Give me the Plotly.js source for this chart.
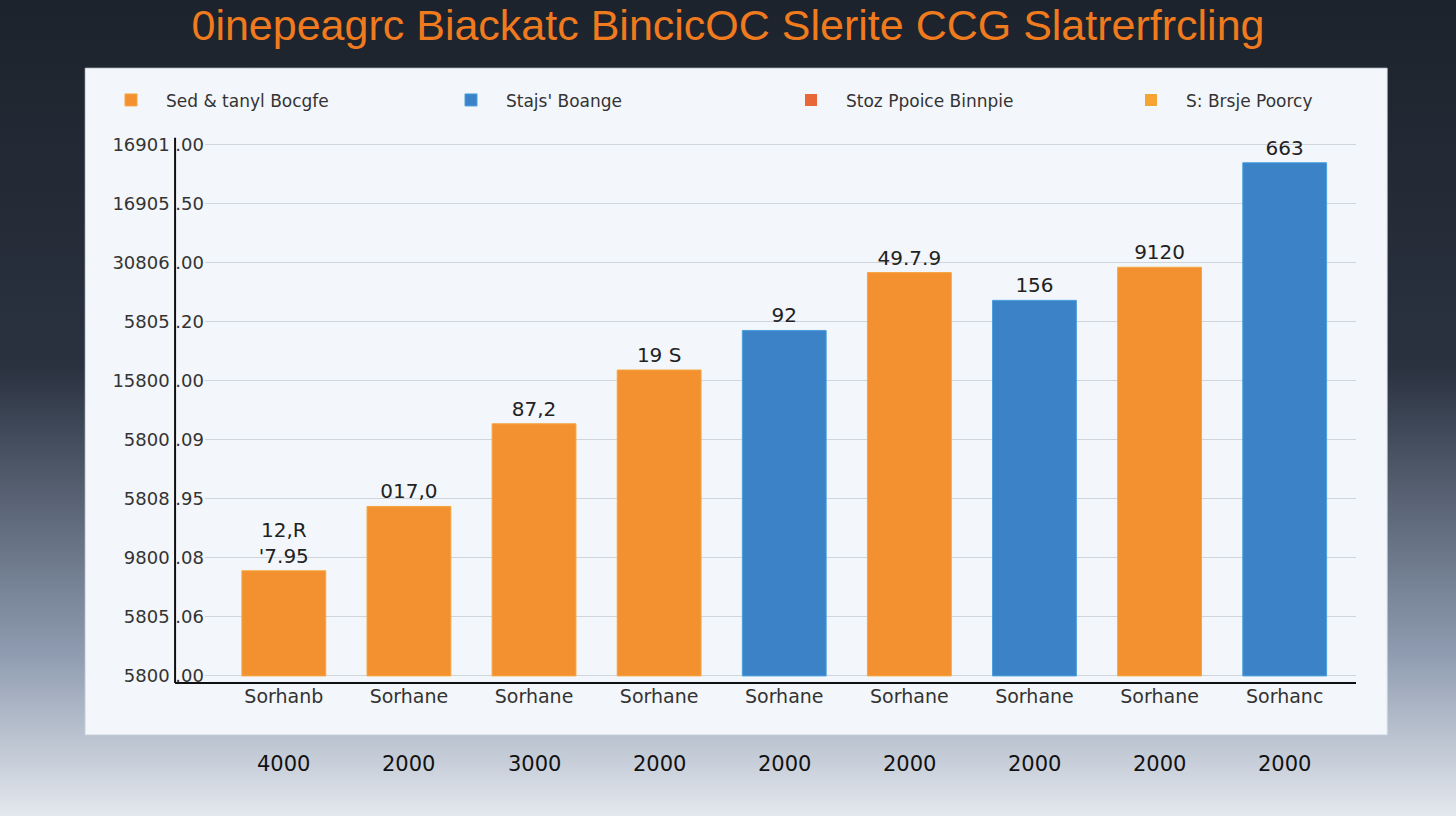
<!DOCTYPE html>
<html>
<head>
<meta charset="utf-8">
<script src="https://cdn.plot.ly/plotly-3.0.1.min.js"></script>
<style>
  html, body { margin: 0; padding: 0; }
  body { width: 1456px; height: 816px; background: linear-gradient(#1d232c 0%, #2a3240 45%, #8e9bb0 80%, #e4e8ee 100%); }
  #chart { width: 1456px; height: 816px; }
</style>
</head>
<body>
<div id="chart"></div>
<script>
var categories = [0, 1, 2, 3, 4, 5, 6, 7, 8];
var catLabels = ["Sorhanb", "Sorhane", "Sorhane", "Sorhane", "Sorhane", "Sorhane", "Sorhane", "Sorhane", "Sorhanc"];
var years = ["4000", "2000", "3000", "2000", "2000", "2000", "2000", "2000", "2000"];
var values = [1.78, 2.87, 4.27, 5.18, 5.85, 6.83, 6.36, 6.92, 8.69];
var barLabels = ["12,R<br>'7.95", "017,0", "87,2", "19 S", "92", "49.7.9", "156", "9120", "663"];
var isBlue = [false, false, false, false, true, false, true, false, true];
var tickVals = [0, 1, 2, 3, 4, 5, 6, 7, 8, 9];
var tickText = ["5800 .00", "5805 .06", "9800 .08", "5808 .95", "5800 .09", "15800 .00", "5805 .20", "30806 .00", "16905 .50", "16901 .00"];
var legendNames = ["Sed & tanyl Bocgfe", "Stajs' Boange", "Stoz Ppoice Binnpie", "S: Brsje Poorcy"];

function pick(flag) {
  return {
    x: categories.filter(function (c, i) { return isBlue[i] === flag; }),
    y: values.filter(function (v, i) { return isBlue[i] === flag; }),
    text: barLabels.filter(function (t, i) { return isBlue[i] === flag; })
  };
}
var o = pick(false), b = pick(true);

var data = [
  { type: "bar", x: o.x, y: o.y, text: o.text, name: legendNames[0], width: 0.67,
    textposition: "outside", cliponaxis: false,
    textfont: { family: "DejaVu Sans", size: 20, color: "#222" },
    marker: { color: "#f39030", line: { color: "#f5a640", width: 1 } } },
  { type: "bar", x: b.x, y: b.y, text: b.text, name: legendNames[1], width: 0.67,
    textposition: "outside", cliponaxis: false,
    textfont: { family: "DejaVu Sans", size: 20, color: "#222" },
    marker: { color: "#3b82c6", line: { color: "#4aa0e0", width: 1 } } },
  { type: "bar", x: [null], y: [null], name: legendNames[2], marker: { color: "#e8683a" } },
  { type: "bar", x: [null], y: [null], name: legendNames[3], marker: { color: "#f6a535" } }
];

var annotations = categories.map(function (c, i) {
  return { x: c, xref: "x", y: -0.165, yref: "paper", text: years[i], showarrow: false,
    font: { family: "DejaVu Sans", size: 21, color: "#111" } };
});

var layout = {
  width: 1456, height: 816,
  paper_bgcolor: "rgba(0,0,0,0)",
  plot_bgcolor: "rgba(0,0,0,0)",
  margin: { l: 205, r: 100, t: 109, b: 133 },
  title: { text: "0inepeagrc Biackatc BincicOC Slerite CCG Slatrerfrcling", x: 0.5, xref: "container",
    y: 0.97, yref: "container", yanchor: "middle",
    font: { family: "Liberation Sans", size: 43, color: "#f07a1e" } },
  barmode: "overlay",
  showlegend: true,
  legend: { orientation: "h", x: -0.03, xanchor: "left", y: 1.015, yanchor: "middle",
    entrywidth: 265, font: { family: "DejaVu Sans", size: 17, color: "#333" }, itemwidth: 60,
    bgcolor: "rgba(0,0,0,0)" },
  xaxis: { range: [-0.63, 8.57], tickvals: categories, ticktext: catLabels,
    tickfont: { family: "DejaVu Sans", size: 19, color: "#333" },
    showline: false, showgrid: false, zeroline: false, ticks: "", fixedrange: true },
  yaxis: { range: [-0.12, 9.6], tickvals: tickVals, ticktext: tickText,
    tickfont: { family: "DejaVu Sans", size: 18, color: "#333" },
    showline: false, gridcolor: "#cfd5dd", gridwidth: 1,
    zeroline: false, ticks: "", fixedrange: true },
  shapes: [
    { type: "rect", xref: "paper", yref: "paper", x0: -0.104, x1: 1.027, y0: -0.09, y1: 1.071,
      fillcolor: "#f3f6fa", line: { color: "#dde3ea", width: 1 }, layer: "below" },
    { type: "line", xref: "paper", yref: "paper", x0: -0.026, x1: -0.026, y0: 0, y1: 0.95,
      line: { color: "#111", width: 2 } },
    { type: "line", xref: "paper", yref: "paper", x0: -0.026, x1: 1, y0: 0, y1: 0,
      line: { color: "#111", width: 2 } }
  ],
  annotations: annotations
};

Plotly.newPlot("chart", data, layout, { displayModeBar: false });
</script>
</body>
</html>
